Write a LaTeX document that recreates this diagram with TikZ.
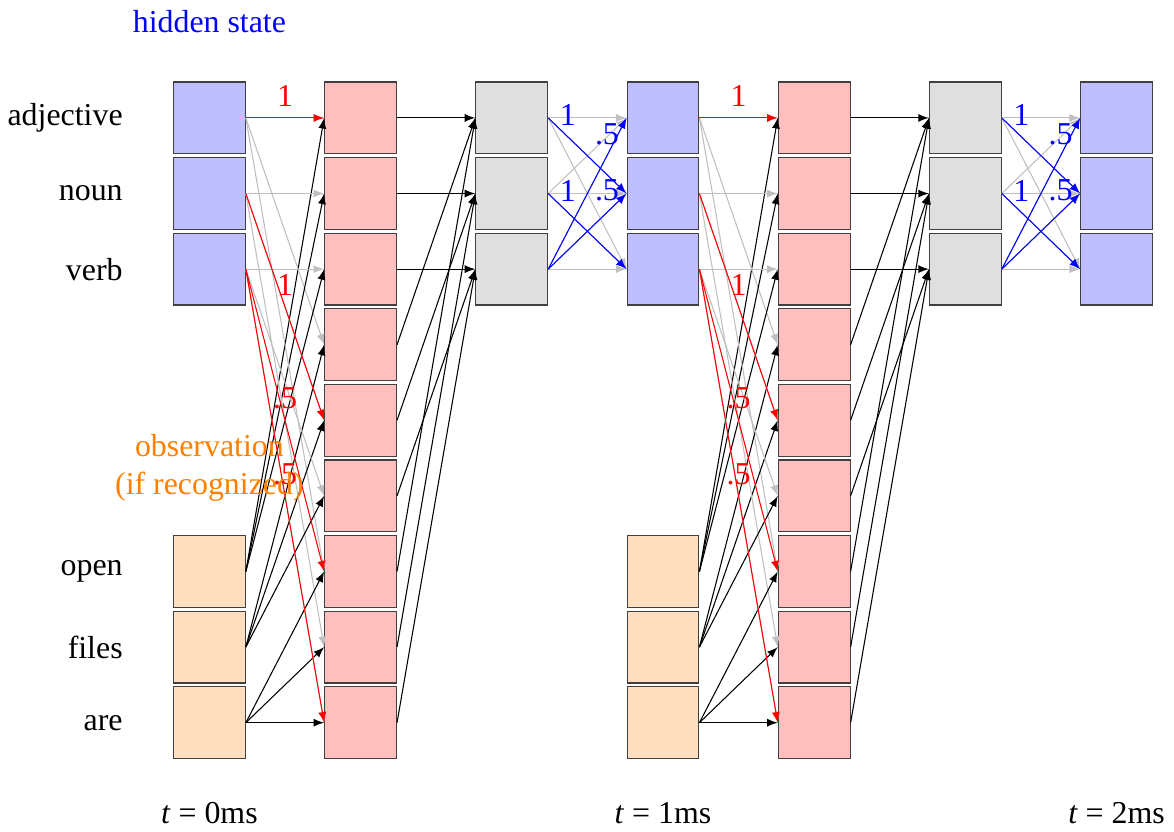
\documentclass[tikz,border=0pt,12pt]{standalone}
\usepackage{fontspec}
\setmainfont{Liberation Serif}

\begin{document}
\begin{tikzpicture}[>=latex,
    box/.style = {draw=black!75, minimum size=0.95cm, inner sep=0pt},
    hid/.style = {box, fill=blue!25},
    obs/.style = {box, fill=orange!25},
    prod/.style = {box, fill=red!25},
    sum/.style = {box, fill=gray!25},
    zero/.style = {->, gray!50},
    feed/.style = {->, black},
    emit/.style = {->, red},
    trans/.style = {->, blue}]
  \useasboundingbox (-2.77,1.56) rectangle (12.76,-9.44);

  % boxes of the two time steps
  \foreach \t in {0,1} {
    \foreach \i in {0,1,2} {
      \node[hid] (h\t\i) at (6*\t,-\i) {};
      \node[obs] (x\t\i) at (6*\t,-6-\i) {};
      \node[sum] (s\t\i) at (6*\t+4,-\i) {};
    }
    \foreach \k in {0,...,8}
      \node[prod] (p\t\k) at (6*\t+2,-\k) {};
  }
  \foreach \i in {0,1,2}
    \node[hid] (h2\i) at (12,-\i) {};

  % all connections, then the nonzero ones on top
  \foreach \t/\nt in {0/1,1/2} {
    \foreach \i in {0,1,2} {
      \foreach \j in {0,1,2} {
        \pgfmathtruncatemacro\k{3*\j+\i}
        \pgfmathtruncatemacro\m{3*\i+\j}
        \draw[zero] (h\t\i.east) -- (p\t\k.west);
        \draw[zero] (s\t\i.east) -- (h\nt\j.west);
        \draw[feed] (x\t\i.east) -- (p\t\m.west);
        \draw[feed] (p\t\k.east) -- (s\t\i.west);
      }
    }
    \draw[emit] (h\t0.east) -- node[above] {1} (p\t0.west);
    \draw[emit] (h\t1.east) -- node[above] {1} (p\t4.west);
    \draw[emit] (h\t2.east) -- node[above] {.5} (p\t6.west);
    \draw[emit] (h\t2.east) -- node[above] {.5} (p\t8.west);
    \draw[trans] (s\t0.east) -- node[pos=.25,above] {1} (h\nt1.west);
    \draw[trans] (s\t1.east) -- node[pos=.25,above] {1} (h\nt2.west);
    \draw[trans] (s\t2.east) -- node[pos=.75,above] {.5} (h\nt0.west);
    \draw[trans] (s\t2.east) -- node[pos=.75,above] {.5} (h\nt1.west);
  }

  % labels
  \node[blue] (hidtitle) at (0,1.28) {hidden state};
  \node[orange, align=center] (obstitle) at (0,-4.63) {observation\\(if recognized)};
  \foreach \w [count=\r from 0] in {adjective,noun,verb}
    \node[anchor=east] (tag\r) at (-1,-\r) {\w};
  \foreach \w [count=\r from 6] in {open,files,are}
    \node[anchor=east] (tag\r) at (-1,-\r) {\w};
  \foreach \t in {0,1,2}
    \node (time\t) at (6*\t,-9.2) {\textit{t} = \t ms};
\end{tikzpicture}
\end{document}
